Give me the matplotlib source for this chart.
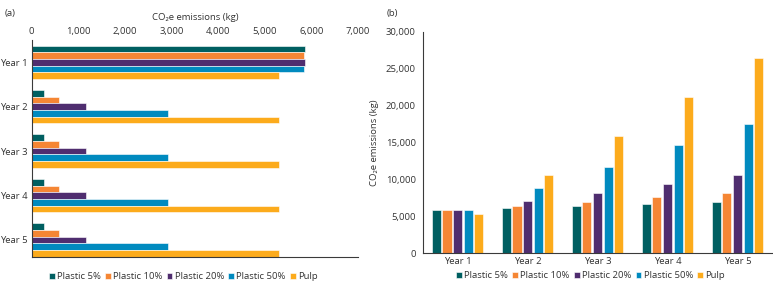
import numpy as np
import matplotlib.pyplot as plt

plt.rcParams['font.family'] = ['Open Sans', 'DejaVu Sans']

years = ['Year 1', 'Year 2', 'Year 3', 'Year 4', 'Year 5']
series = ['Plastic 5%', 'Plastic 10%', 'Plastic 20%', 'Plastic 50%', 'Pulp']
colors = ['#005f61', '#f58634', '#4f2d6f', '#008abf', '#fcab1c']

# (a) yearly emissions
yearly_p5 = [5860, 270, 270, 270, 270]
yearly_p10 = [5850, 580, 580, 580, 580]
yearly_p20 = [5870, 1170, 1170, 1170, 1170]
yearly_p50 = [5850, 2925, 2925, 2925, 2925]
yearly_pulp = [5300, 5300, 5300, 5300, 5300]

# (b) cumulative emissions
cum_p5 = [5860, 6150, 6430, 6700, 7000]
cum_p10 = [5850, 6430, 7010, 7600, 8200]
cum_p20 = [5870, 7040, 8210, 9380, 10580]
cum_p50 = [5850, 8775, 11700, 14625, 17550]
cum_pulp = [5300, 10600, 15900, 21200, 26500]

yearly = [yearly_p5, yearly_p10, yearly_p20, yearly_p50, yearly_pulp]
cumul = [cum_p5, cum_p10, cum_p20, cum_p50, cum_pulp]

fs = 6.8
spine_c = '#3a3a3a'
txt_c = '#333333'
ylab = 'CO\u2082e emissions (kg)'

fig = plt.figure(figsize=(7.73, 2.86), dpi=100)

# ---- panel (a)
ax1 = fig.add_axes([0.0408, 0.1003, 0.4224, 0.76])
pos = np.arange(len(years))
for i, (vals, c, name) in enumerate(zip(yearly, colors, series)):
    ax1.barh(pos + (i - 2) * 0.15, vals, height=0.15, color=c,
             edgecolor='white', linewidth=0.4, label=name)
ax1.set_xlim(0, 7000)
ax1.set_ylim(4.39, -0.5)
ax1.set_yticks(pos)
ax1.set_yticklabels(years)
ax1.set_xticks(np.arange(0, 7001, 1000))
ax1.set_xticklabels(['{:,}'.format(v) for v in range(0, 7001, 1000)])
ax1.xaxis.tick_top()
ax1.xaxis.set_label_position('top')
ax1.set_xlabel(ylab, fontsize=fs, color=txt_c, labelpad=5)
ax1.tick_params(axis='y', length=0, labelsize=fs, colors=txt_c, pad=3)
ax1.tick_params(axis='x', length=0, labelsize=fs, colors=txt_c, pad=3)
for s in ['top', 'right']:
    ax1.spines[s].set_visible(False)
for s in ['left', 'bottom']:
    ax1.spines[s].set_color(spine_c)
    ax1.spines[s].set_linewidth(0.8)
ax1.legend(loc='center', bbox_to_anchor=(0.465, -0.09), ncol=5, frameon=False,
           fontsize=fs, handlelength=0.6, handleheight=0.6, handletextpad=0.25,
           columnspacing=0.45, labelcolor=txt_c)
fig.text(0.006, 0.945, '(a)', fontsize=fs, color=txt_c)

# ---- panel (b)
ax2 = fig.add_axes([0.5468, 0.1143, 0.4525, 0.775])
for i, (vals, c, name) in enumerate(zip(cumul, colors, series)):
    ax2.bar(pos + (i - 2) * 0.152, vals, width=0.13, color=c,
            edgecolor='white', linewidth=0.4, label=name)
ax2.set_xlim(-0.5, 4.5)
ax2.set_ylim(0, 30000)
ax2.set_xticks(pos)
ax2.set_xticklabels(years)
ax2.set_yticks(np.arange(0, 30001, 5000))
ax2.set_yticklabels(['{:,}'.format(v) for v in range(0, 30001, 5000)])
ax2.set_ylabel(ylab, fontsize=fs, color=txt_c, labelpad=5)
ax2.tick_params(axis='y', length=0, labelsize=fs, colors=txt_c, pad=5)
ax2.tick_params(axis='x', length=0, labelsize=fs, colors=txt_c, pad=3)
for s in ['top', 'right']:
    ax2.spines[s].set_visible(False)
for s in ['left', 'bottom']:
    ax2.spines[s].set_color(spine_c)
    ax2.spines[s].set_linewidth(0.8)
ax2.legend(loc='center', bbox_to_anchor=(0.48, -0.10), ncol=5, frameon=False,
           fontsize=fs, handlelength=0.6, handleheight=0.6, handletextpad=0.25,
           columnspacing=0.45, labelcolor=txt_c)
fig.text(0.5, 0.945, '(b)', fontsize=fs, color=txt_c)

fig.savefig('out.png', dpi=100)
